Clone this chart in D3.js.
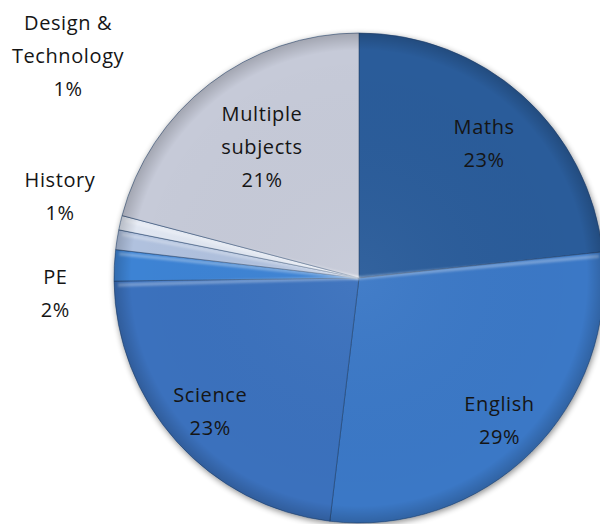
<!DOCTYPE html>
<html>
<head>
<meta charset="utf-8">
<script src="https://cdn.jsdelivr.net/npm/d3@7"></script>
<style>
  body { margin: 0; background: #fff; }
  svg { display: block; }
  text { font-family: "Open Sans", "Liberation Sans", sans-serif; font-size: 20px; letter-spacing: 0.6px; fill: #151515; }
</style>
</head>
<body>
<svg id="chart" width="600" height="524"></svg>
<script>
// subjects, clockwise from 12 o'clock
var subjects = ["Maths", "English", "Science", "PE", "History", "Design & Technology", "Multiple subjects"];
// share of respondents (%)
var shares = [23.3, 28.6, 22.9, 2.05, 1.3, 0.95, 20.9];
var colours = ["#2c5c9a", "#3a78c6", "#3a71bd", "#3d83d4", "#b0c1de", "#e0e6f1", "#c6cad8"];
// how each label is split into lines
var labelLines = [["Maths"], ["English"], ["Science"], ["PE"], ["History"], ["Design &", "Technology"], ["Multiple", "subjects"]];

// label placement: radius from centre and angle nudge (degrees)
var labelLayout = {
  "Maths": { r: 184, da: 0.9 },
  "English": { r: 200, da: 0 },
  "Science": { r: 200, da: 0 },
  "PE": { r: 304, da: -5.8 },
  "History": { r: 310, da: 6.3 },
  "Design & Technology": { r: 366, da: 24.3 },
  "Multiple subjects": { r: 163, da: 1.1 }
};

var cx = 359, cy = 278, R = 245;
var svg = d3.select("#chart");

var defs = svg.append("defs");
var f = defs.append("filter").attr("id", "shadow").attr("x", "-10%").attr("y", "-10%").attr("width", "120%").attr("height", "120%");
f.append("feGaussianBlur").attr("in", "SourceAlpha").attr("stdDeviation", 3);
f.append("feOffset").attr("dx", 1).attr("dy", 2).attr("result", "b");
f.append("feComponentTransfer").append("feFuncA").attr("type", "linear").attr("slope", 0.45);
var m = f.append("feMerge");
m.append("feMergeNode");
m.append("feMergeNode").attr("in", "SourceGraphic");

var blur = defs.append("filter").attr("id", "soft");
blur.append("feGaussianBlur").attr("stdDeviation", 0.8);

var rg = defs.append("radialGradient").attr("id", "shade").attr("cx", "50%").attr("cy", "50%").attr("r", "50%");
rg.append("stop").attr("offset", "0%").attr("stop-color", "#fff").attr("stop-opacity", 0.04);
rg.append("stop").attr("offset", "93%").attr("stop-color", "#000").attr("stop-opacity", 0.0);
rg.append("stop").attr("offset", "100%").attr("stop-color", "#000").attr("stop-opacity", 0.18);

var data = subjects.map(function(s, i) { return { name: s, value: shares[i], i: i }; });

var pie = d3.pie().sort(null).value(function(d) { return d.value; });
var arcs = pie(data);
var arc = d3.arc().innerRadius(0).outerRadius(R);

var g = svg.append("g").attr("transform", "translate(" + cx + "," + cy + ")");

g.append("g").attr("filter", "url(#shadow)")
  .selectAll("path").data(arcs).enter().append("path")
  .attr("d", arc)
  .attr("fill", function(d) { return colours[d.data.i]; })
  .attr("stroke", "#23426b")
  .attr("stroke-opacity", 0.55)
  .attr("stroke-width", 1);

// bevel: light band just below every near-horizontal slice edge
var edges = arcs.map(function(d) { return d.startAngle; });
var bevel = edges.filter(function(a) { return Math.abs(Math.sin(a)) > 0.7; }).map(function(a) {
  return a + (Math.sin(a) > 0 ? 0.016 : -0.016);
});
g.append("g").attr("clip-path", null).attr("filter", "url(#soft)")
  .selectAll("line").data(bevel).enter().append("line")
  .attr("x1", 0).attr("y1", 0)
  .attr("x2", function(a) { return Math.sin(a) * (R - 4); })
  .attr("y2", function(a) { return -Math.cos(a) * (R - 4); })
  .attr("stroke", "#fff").attr("stroke-opacity", 0.3).attr("stroke-width", 3.5);

g.append("circle").attr("r", R).attr("fill", "url(#shade)");

// labels
var labels = g.selectAll("text.lab").data(arcs).enter().append("text")
  .attr("class", "lab")
  .attr("text-anchor", "middle")
  .attr("transform", function(d) {
    var L = labelLayout[d.data.name];
    var a = (d.startAngle + d.endAngle) / 2 + L.da * Math.PI / 180;
    return "translate(" + (Math.sin(a) * L.r) + "," + (-Math.cos(a) * L.r) + ")";
  });

labels.each(function(d) {
  var lines = labelLines[d.data.i].concat([Math.round(d.data.value) + "%"]);
  var t = d3.select(this);
  var lh = 33;
  var y0 = -(lines.length - 1) * lh / 2 + 7;
  lines.forEach(function(l, k) {
    t.append("tspan").attr("x", 0).attr("y", y0 + k * lh).text(l);
  });
});
</script>
</body>
</html>
